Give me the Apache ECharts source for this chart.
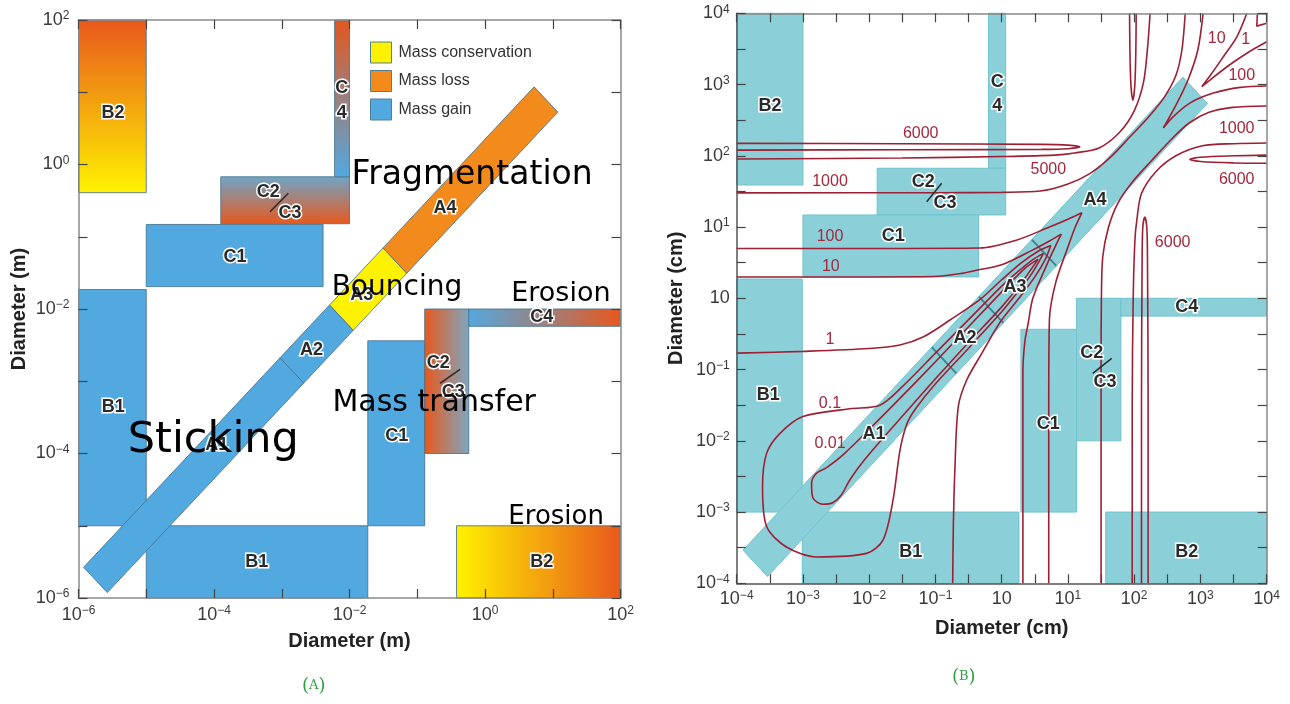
<!DOCTYPE html>
<html>
<head>
<meta charset="utf-8">
<script src="https://cdn.jsdelivr.net/npm/echarts@6/dist/echarts.min.js"></script>
<style>
  html, body { margin: 0; padding: 0; background: #ffffff; }
  #chart { width: 1290px; height: 704px; }
</style>
</head>
<body>
<div id="chart"></div>
<script>
// All positions are log10 of the particle diameter.
// Panel A is in metres, panel B in centimetres.

// ---------------- Panel A: collision outcome regions ----------------
// [log D1 from, log D1 to, log D2 from, log D2 to]
const gainRectsA = [
  [-6, -5, -5, -1.73],        // B1 vertical strip
  [-5, -1.73, -6, -5],        // B1 horizontal strip
  [-5, -2.39, -1.69, -0.83],  // C1 upper
  [-1.73, -0.89, -5, -2.44]   // C1 lower
];
const lossRectsA = [
  [-6, -5, -0.39, 2],         // B2 upper-left
  [-0.42, 2, -6, -5],         // B2 lower-right
  [-3.9, -2, -0.82, -0.17],   // C2/C3 upper
  [-0.89, -0.24, -4, -2],     // C2/C3 lower
  [-2.22, -2, -0.17, 2],      // C4 vertical
  [-0.24, 2, -2.24, -2]       // C4 horizontal
];
// equal-size band, segments A1..A4 given as [start, end] along D1 = D2
const bandSegA = [[-5.75, -2.85], [-2.85, -2.12], [-2.12, -1.33], [-1.33, 0.9]];
const bandKindA = ['Mass gain', 'Mass gain', 'Mass conservation', 'Mass loss'];

const regionTextA = ['B2', 'C', '4', 'C2', 'C3', 'C1', 'A4', 'A3', 'A2', 'A1', 'B1', 'B1', 'C1', 'C2', 'C3', 'C4', 'B2'];
const regionPosA = [
  [-5.49, 0.71], [-2.115, 1.055], [-2.115, 0.71], [-3.2, -0.376], [-2.878, -0.676],
  [-3.69, -1.276], [-0.59, -0.606], [-1.82, -1.806], [-2.56, -2.567], [-3.96, -3.88],
  [-5.486, -3.36], [-3.37, -5.497], [-1.303, -3.758], [-0.689, -2.752], [-0.468, -3.145],
  [0.837, -2.107], [0.837, -5.497]
];
const slashA = [[-3.173, -0.653, -2.903, -0.399], [-0.664, -3.03, -0.369, -2.835]];

const regimeText = ['Fragmentation', 'Bouncing', 'Erosion', 'Mass transfer', 'Sticking', 'Erosion'];
const regimePos = [[-0.19, -0.145], [-1.30, -1.70], [1.12, -1.79], [-0.75, -3.31], [-4.01, -3.82], [1.05, -4.886]];

// ---------------- Panel B: outcome regions and collision speeds ----------------
const tealRectsB = [
  [-4, -3, 1.59, 4],          // B2
  [-0.2, 0.06, 1.825, 4],     // C4
  [-1.88, 0.06, 1.17, 1.825], // C2/C3
  [-3, -0.35, 0.30, 1.17],    // C1
  [-4, -3.01, -3, 0.27],      // B1
  [-3.01, 0.26, -4, -3],      // B1
  [0.29, 1.13, -3, -0.435],   // C1
  [1.13, 1.80, -2, 0],        // C2/C3
  [1.80, 4, -0.25, 0],        // C4
  [1.57, 4, -4, -3]           // B2
];
const bandB = [[-3.72, 2.92]];
const bandDividersB = [-0.87, -0.16, 0.64];

const regionTextB = ['B2', 'C', '4', 'C2', 'C3', 'C1', 'A4', 'A3', 'A2', 'A1', 'B1', 'B1', 'C1', 'C2', 'C3', 'C4', 'B2'];
const regionPosB = [
  [-3.497, 2.699], [-0.066, 3.04], [-0.066, 2.699], [-1.183, 1.637], [-0.856, 1.342],
  [-1.636, 0.874], [1.408, 1.38], [0.20, 0.163], [-0.554, -0.561], [-1.928, -1.905],
  [-3.523, -1.357], [-1.374, -3.556], [0.703, -1.764], [1.358, -0.772], [1.56, -1.17],
  [2.793, -0.118], [2.793, -3.556]
];
const slashB = [[-1.132, 1.356, -0.906, 1.614], [1.374, -1.053, 1.66, -0.842]];

// collision speed contours (cm/s), [log D1, log D2]
const contour0p01 = [[0.55,0.55],[0.35,0.42],[0,0.09],[-0.5,-0.4],[-1,-0.89],[-1.5,-1.37],[-2,-1.84],[-2.4,-2.2],[-2.65,-2.38],[-2.8,-2.46],[-2.87,-2.6],[-2.85,-2.8],[-2.7,-2.89],[-2.55,-2.87],[-2.42,-2.76],[-2.3,-2.56],[-2.1,-2.3],[-1.6,-1.76],[-1,-1.13],[-0.5,-0.62],[0,-0.12],[0.3,0.22],[0.55,0.55]];
const contour0p1 = [[0.63,0.63],[0.45,0.53],[0.2,0.34],[0,0.17],[-0.5,-0.3],[-1,-0.77],[-1.5,-1.24],[-1.84,-1.5],[-2.29,-1.55],[-3,-1.66],[-3.35,-1.9],[-3.55,-2.18],[-3.61,-2.65],[-3.55,-3.2],[-3.25,-3.49],[-2.79,-3.63],[-2.04,-3.58],[-1.79,-3.39],[-1.64,-2.83],[-1.535,-2.13],[-1.43,-1.76],[-1.3,-1.55],[-1,-1.2],[-0.5,-0.7],[0,-0.19],[0.2,0.04],[0.45,0.34],[0.63,0.63]];
const contour1Low = [[-4,-0.77],[-3,-0.745],[-2,-0.705],[-1.535,-0.655],[-1.18,-0.54],[-0.78,-0.305],[-0.33,-0.02],[0,0.26],[0.3,0.5],[0.55,0.66],[0.74,0.74],[0.66,0.55],[0.5,0.3],[0.26,0],[-0.02,-0.33],[-0.305,-0.78],[-0.53,-1.15],[-0.655,-1.52],[-0.705,-2.36],[-0.73,-3.2],[-0.74,-4]];
const contour1High = [[3.86,4],[3.85,3.82],[4,3.86]];
const contour10Low = [[-4,0.3],[-2,0.3],[-1.03,0.305],[-0.6,0.35],[-0.35,0.4],[0,0.47],[0.47,0.68],[0.75,0.82],[0.9,0.9],[0.82,0.75],[0.68,0.47],[0.47,0],[0.4,-0.35],[0.35,-0.6],[0.32,-1.03],[0.32,-2],[0.32,-4]];
const contour10High = [[3.7,4],[3.55,3.67],[3.345,3.39],[3.15,3.13],[3.02,2.97],[3.14,3.06],[3.4,3.25],[3.7,3.44],[4,3.6]];
const contour100Low = [[-4,0.7],[-1.5,0.7],[-0.33,0.705],[0.22,0.815],[0.72,1],[1,1.11],[1.21,1.2],[1.11,1],[1,0.72],[0.815,0.22],[0.72,-0.3],[0.71,-1.5],[0.71,-4]];
const contour100High = [[3.04,4],[2.96,3.485],[2.81,3.06],[2.63,2.71],[2.44,2.39],[2.59,2.55],[2.84,2.74],[3.195,2.88],[3.6,2.96],[4,2.98]];
const contour1000Upper = [[-4,1.48],[-1,1.482],[0,1.487],[0.58,1.505],[0.99,1.6],[1.33,1.75],[1.63,1.97],[1.93,2.26],[2.24,2.57],[2.46,2.83],[2.63,3.13],[2.72,3.485],[2.77,4]];
const contour1000Lower = [[1.5,-4],[1.5,-1],[1.505,0],[1.525,0.58],[1.61,0.99],[1.75,1.33],[1.97,1.63],[2.26,1.93],[2.57,2.24],[2.83,2.46],[3.13,2.61],[3.485,2.68],[4,2.7]];
const contour5000Upper = [[-4,1.955],[-1.5,1.97],[0,1.99],[0.8,2.01],[1.1,2.04],[1.47,2.11],[1.78,2.33],[2,2.63],[2.14,3.03],[2.2,3.5],[2.24,4]];
const contour5000Lower = [[1.97,-4],[1.97,-1.5],[1.985,0],[2.01,0.8],[2.04,1.1],[2.11,1.47],[2.33,1.78],[2.63,2],[3.03,2.14],[3.5,2.17],[4,2.18]];
const contour6000Left = [[-4,2.175],[-1.5,2.17],[0.6,2.16],[1,2.15],[1.18,2.125],[1,2.1],[0.6,2.09],[-1.5,2.085],[-4,2.08]];
const contour6000Top = [[1.93,4],[1.935,3.5],[1.95,3],[1.98,2.78],[2.01,3],[2.025,3.5],[2.03,4]];
const contour6000Right = [[4,2.01],[3.5,2],[3,1.98],[2.84,1.95],[3,1.92],[3.5,1.9],[4,1.895]];
const contour6000Bottom = [[2.11,-4],[2.11,-1.5],[2.12,0.6],[2.13,1],[2.16,1.14],[2.19,1],[2.2,0.6],[2.21,-1.5],[2.21,-4]];

const contourPieces = [
  contour0p01, contour0p1, contour1Low, contour1High, contour10Low, contour10High,
  contour100Low, contour100High, contour1000Upper, contour1000Lower,
  contour5000Upper, contour5000Lower, contour6000Left, contour6000Top, contour6000Right, contour6000Bottom
];

const speedText = ['6000', '1000', '100', '10', '1', '0.1', '0.01', '5000', '6000', '10', '1', '100', '1000', '6000'];
const speedPos = [
  [-1.223, 2.316], [-2.592, 1.637], [-2.592, 0.865], [-2.58, 0.443], [-2.592, -0.585],
  [-2.592, -1.474], [-2.592, -2.045], [0.703, 1.8], [2.58, 0.78], [3.245, 3.649],
  [3.683, 3.625], [3.623, 3.12], [3.547, 2.386], [3.547, 1.67]
];

// ---------------- styles ----------------
const BLUE = '#52a9e0', ORANGE = '#f28a1c', YELLOW = '#fff200', RED_ORANGE = '#e8581c', STEEL = '#6fa5c8';
const EDGE_A = 'rgba(70,115,140,0.85)';
const TEAL = '#8bd0d8', TEAL_EDGE = '#6ec4ce';
const CONTOUR = '#9e1f33';
const G = echarts.graphic;
const lossFillA = [
  ['v', RED_ORANGE, YELLOW],
  ['h', YELLOW, RED_ORANGE],
  ['v', STEEL, RED_ORANGE],
  ['h', RED_ORANGE, '#7ea6c0'],
  ['v', '#e3571e', BLUE],
  ['h', BLUE, RED_ORANGE]
];
function gradient(spec) {
  const stops = [{ offset: 0, color: spec[1] }, { offset: 1, color: spec[2] }];
  return spec[0] === 'v' ? new G.LinearGradient(0, 0, 0, 1, stops) : new G.LinearGradient(0, 0, 1, 0, stops);
}
const kindColor = { 'Mass gain': BLUE, 'Mass loss': ORANGE, 'Mass conservation': YELLOW };

function rectRender(fillFor, stroke) {
  return function (params, api) {
    const a = api.coord([api.value(0), api.value(3)]);
    const b = api.coord([api.value(1), api.value(2)]);
    return {
      type: 'rect',
      shape: { x: a[0], y: a[1], width: b[0] - a[0], height: b[1] - a[1] },
      style: { fill: fillFor(params.dataIndex), stroke: stroke, lineWidth: 1 }
    };
  };
}
function bandRender(w, fillFor, stroke) {
  return function (params, api) {
    const t0 = api.value(0), t1 = api.value(1);
    const pts = [[t0 - w, t0 + w], [t1 - w, t1 + w], [t1 + w, t1 - w], [t0 + w, t0 - w]].map(p => api.coord(p));
    return { type: 'polygon', shape: { points: pts }, style: { fill: fillFor(params.dataIndex), stroke: stroke, lineWidth: 1 } };
  };
}
function textSeries(xi, yi, texts, positions, style, z) {
  return {
    type: 'custom', xAxisIndex: xi, yAxisIndex: yi, z: z, silent: true, clip: false,
    data: positions,
    renderItem: function (params, api) {
      const p = api.coord([api.value(0), api.value(1)]);
      return {
        type: 'text', x: p[0], y: p[1],
        style: Object.assign({ text: texts[params.dataIndex], align: 'center', verticalAlign: 'middle' }, style)
      };
    }
  };
}
function segmentSeries(xi, yi, segs, color, width, z) {
  return {
    type: 'custom', xAxisIndex: xi, yAxisIndex: yi, z: z, silent: true,
    data: segs,
    renderItem: function (params, api) {
      const a = api.coord([api.value(0), api.value(1)]);
      const b = api.coord([api.value(2), api.value(3)]);
      return { type: 'line', shape: { x1: a[0], y1: a[1], x2: b[0], y2: b[1] }, style: { stroke: color, lineWidth: width } };
    }
  };
}

const regionLabelStyle = { fill: '#2a2a2a', stroke: '#ffffff', lineWidth: 3, fontSize: 18, fontWeight: 'bold', fontFamily: 'Liberation Sans' };

// ---------------- axes ----------------
const tickFont = 'Liberation Sans';
const richPow = {
  b: { fontSize: 18, fontFamily: tickFont, color: '#3a3a3a', lineHeight: 20 },
  s: { fontSize: 12, fontFamily: tickFont, color: '#3a3a3a', verticalAlign: 'top', lineHeight: 12 }
};
function powLabel(v, step, plainZero) {
  const e = Math.round(v);
  if (Math.abs(v - e) > 1e-6 || e % step !== 0) return '';
  if (e === 0 && plainZero) return '{b|10}';
  return '{b|10}{s|' + (e < 0 ? '\u2212' + (-e) : String(e)) + '}';
}
function axis(grid, pos, min, max, interval, opts) {
  const a = {
    type: 'value', gridIndex: grid, position: pos, min: min, max: max, interval: interval, z: 10,
    splitLine: { show: false },
    axisLine: { show: true, onZero: false, lineStyle: { color: opts.lineColor, width: 1.5 } },
    axisTick: { show: true, inside: true, length: 9, lineStyle: { color: '#444', width: 1.2 } },
    axisLabel: { show: !!opts.label, margin: opts.margin || 6, formatter: opts.label, rich: richPow }
  };
  if (opts.name) {
    a.name = opts.name;
    a.nameLocation = 'middle';
    a.nameGap = opts.nameGap;
    a.nameTextStyle = { fontSize: 20, fontWeight: 'bold', fontFamily: 'Liberation Sans', color: '#222' };
  }
  return a;
}

const captionRich = {
  p: { fontSize: 18, fontFamily: 'DejaVu Serif', fill: '#2f9e44' },
  a: { fontSize: 13, fontFamily: 'DejaVu Serif', fill: '#2f9e44' }
};

const option = {
  animation: false,
  backgroundColor: '#ffffff',
  grid: [
    { left: 78.5, top: 20, width: 542, height: 578 },
    { left: 736.7, top: 13.3, width: 530, height: 570 }
  ],
  xAxis: [
    axis(0, 'bottom', -6, 2, 1, { lineColor: '#8a8a8a', label: v => powLabel(v, 2, false), margin: 7, name: 'Diameter (m)', nameGap: 33 }),
    axis(0, 'top', -6, 2, 1, { lineColor: '#8a8a8a' }),
    axis(1, 'bottom', -4, 4, 0.5, { lineColor: '#555', label: v => powLabel(v, 1, true), margin: 6, name: 'Diameter (cm)', nameGap: 35 }),
    axis(1, 'top', -4, 4, 0.5, { lineColor: '#888' })
  ],
  yAxis: [
    axis(0, 'left', -6, 2, 1, { lineColor: '#8a8a8a', label: v => powLabel(v, 2, false), margin: 9, name: 'Diameter (m)', nameGap: 49 }),
    axis(0, 'right', -6, 2, 1, { lineColor: '#8a8a8a' }),
    axis(1, 'left', -4, 4, 0.5, { lineColor: '#555', label: v => powLabel(v, 1, true), margin: 7, name: 'Diameter (cm)', nameGap: 50 }),
    axis(1, 'right', -4, 4, 0.5, { lineColor: '#888' })
  ],
  legend: {
    data: ['Mass conservation', 'Mass loss', 'Mass gain'],
    orient: 'vertical', left: 370, top: 41.5, padding: 0,
    itemWidth: 21, itemHeight: 21, itemGap: 6.5,
    icon: 'rect', selectedMode: false,
    itemStyle: { borderColor: '#4f7f98', borderWidth: 1 },
    textStyle: { fontSize: 16, fontFamily: 'Liberation Sans', color: '#333', padding: [0, 0, 0, 2] }
  },
  graphic: [
    { type: 'text', left: 302, top: 677, style: { text: '{p|(}{a|A}{p|)}', rich: captionRich } },
    { type: 'text', left: 952, top: 668, style: { text: '{p|(}{a|B}{p|)}', rich: captionRich } }
  ],
  series: []
};

// Panel A shapes
option.series.push({
  type: 'custom', name: 'Mass gain', xAxisIndex: 0, yAxisIndex: 0, z: 2, silent: true,
  itemStyle: { color: BLUE }, data: gainRectsA,
  renderItem: rectRender(() => BLUE, EDGE_A)
});
option.series.push({
  type: 'custom', name: 'Mass loss', xAxisIndex: 0, yAxisIndex: 0, z: 2, silent: true,
  itemStyle: { color: ORANGE }, data: lossRectsA,
  renderItem: rectRender(i => gradient(lossFillA[i]), EDGE_A)
});
['Mass conservation', 'Mass loss', 'Mass gain'].forEach(kind => {
  const segs = bandSegA.filter((s, i) => bandKindA[i] === kind);
  option.series.push({
    type: 'custom', name: kind, xAxisIndex: 0, yAxisIndex: 0, z: 3, silent: true,
    itemStyle: { color: kindColor[kind] }, data: segs,
    renderItem: bandRender(0.175, () => kindColor[kind], EDGE_A)
  });
});
option.series.push(textSeries(0, 0, regionTextA, regionPosA, regionLabelStyle, 5));
option.series.push(segmentSeries(0, 0, slashA, '#2a2a2a', 1.5, 5));
const regimeSize = [33, 28, 27, 30, 43, 26];
regimeText.forEach((t, i) => {
  option.series.push(textSeries(0, 0, [t], [regimePos[i]], { fill: '#000', fontSize: regimeSize[i], fontFamily: 'DejaVu Sans' }, 7));
});

// Panel B shapes
option.series.push({
  type: 'custom', xAxisIndex: 2, yAxisIndex: 2, z: 2, silent: true, data: tealRectsB,
  renderItem: rectRender(() => TEAL, TEAL_EDGE)
});
option.series.push({
  type: 'custom', xAxisIndex: 2, yAxisIndex: 2, z: 3, silent: true, data: bandB,
  renderItem: bandRender(0.185, () => TEAL, TEAL_EDGE)
});
option.series.push({
  type: 'custom', xAxisIndex: 2, yAxisIndex: 2, z: 3, silent: true, data: bandDividersB.map(t => [t, t]),
  renderItem: function (params, api) {
    const t = api.value(0), w = 0.185;
    const a = api.coord([t - w, t + w]), b = api.coord([t + w, t - w]);
    return { type: 'line', shape: { x1: a[0], y1: a[1], x2: b[0], y2: b[1] }, style: { stroke: '#3d7f8c', lineWidth: 1.8 } };
  }
});
contourPieces.forEach(piece => {
  option.series.push({
    type: 'line', xAxisIndex: 2, yAxisIndex: 2, z: 4, silent: true, data: piece,
    symbol: 'none', smooth: 0.3, lineStyle: { color: CONTOUR, width: 1.6 }
  });
});
option.series.push(textSeries(2, 2, regionTextB, regionPosB, regionLabelStyle, 6));
option.series.push(segmentSeries(2, 2, slashB, '#2a2a2a', 1.5, 6));
option.series.push(textSeries(2, 2, speedText, speedPos, { fill: '#a3283c', fontSize: 16, fontFamily: 'Liberation Sans' }, 6));

const chart = echarts.init(document.getElementById('chart'));
chart.setOption(option);
</script>
</body>
</html>
